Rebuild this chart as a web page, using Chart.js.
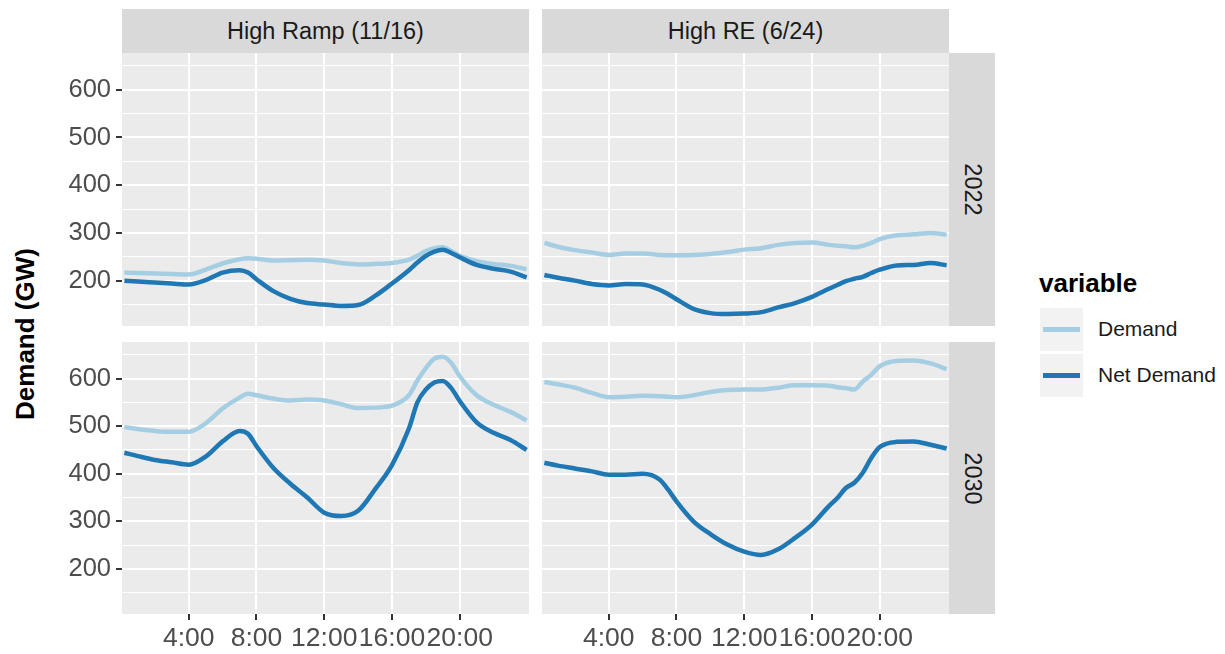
<!DOCTYPE html>
<html>
<head>
<meta charset="utf-8">
<script src="https://cdn.jsdelivr.net/npm/chart.js@4.4.0/dist/chart.umd.min.js"></script>
<style>
  body { margin: 0; background: #fff; font-family: "Liberation Sans", Arial, sans-serif; }
  #wrap { position: relative; width: 1225px; height: 654px; overflow: hidden; }
  .box { position: absolute; }
  .strip { position: absolute; background: #D9D9D9; color: #1A1A1A; font-size: 23.5px;
           display: flex; align-items: center; justify-content: center; }
  .vstrip span { transform: rotate(90deg); white-space: nowrap; }
  #ytitle { position: absolute; left: 25px; top: 334px; transform: translate(-50%, -50%) rotate(-90deg);
            font-size: 26px; font-weight: bold; color: #000; white-space: nowrap; }
  #legtitle { position: absolute; left: 1039px; top: 268px; font-size: 26px; font-weight: bold; color: #000; }
  .key { position: absolute; left: 1040px; width: 43px; height: 43px; background: #F2F2F2; }
  .key i { position: absolute; left: 3px; right: 3px; top: 19px; height: 5px; }
  .leglab { position: absolute; left: 1098px; font-size: 21px; color: #1A1A1A; }
</style>
</head>
<body>
<div id="wrap">
  <div class="strip" style="left:122px;top:9px;width:407px;height:44px;">High Ramp (11/16)</div>
  <div class="strip" style="left:542px;top:9px;width:407px;height:44px;">High RE (6/24)</div>
  <div class="strip vstrip" style="left:949px;top:53px;width:46px;height:273px;"><span>2022</span></div>
  <div class="strip vstrip" style="left:949px;top:342px;width:46px;height:272px;"><span>2030</span></div>

  <div class="box" style="left:60px;top:53px;width:469px;height:273px;"><canvas id="rampTop"></canvas></div>
  <div class="box" style="left:542px;top:53px;width:407px;height:273px;"><canvas id="reTop"></canvas></div>
  <div class="box" style="left:60px;top:342px;width:469px;height:312px;"><canvas id="rampBottom"></canvas></div>
  <div class="box" style="left:542px;top:342px;width:407px;height:312px;"><canvas id="reBottom"></canvas></div>

  <div id="ytitle">Demand (GW)</div>

  <div id="legtitle">variable</div>
  <div class="key" style="top:308px;"><i style="background:#A6CEE3"></i></div>
  <div class="key" style="top:354px;"><i style="background:#1F78B4"></i></div>
  <div class="leglab" style="top:317px;">Demand</div>
  <div class="leglab" style="top:363px;">Net Demand</div>
</div>

<script>
// hour of day
const hours = [0.2, 1, 2, 3, 4, 5, 6, 7, 7.5, 8, 9, 10, 11, 12, 13, 14, 15, 16, 17, 17.5, 18, 18.5, 19, 19.5, 20, 21, 22, 23, 23.95];

// High Ramp (11/16)
const rampDemand2022 = [217, 216, 215, 214, 213, 223, 236, 245, 247, 246, 242, 243, 244, 242, 237, 234, 235, 237, 244, 252, 262, 268, 270, 262, 252, 241, 235, 231, 224];
const rampNet2022    = [200, 198, 196, 194, 192, 201, 217, 222, 217, 203, 178, 162, 153, 150, 147, 149, 168, 194, 222, 238, 252, 261, 265, 258, 249, 233, 225, 219, 207];
const rampDemand2030 = [498, 494, 490, 488, 488, 506, 537, 560, 568, 565, 558, 554, 556, 554, 546, 538, 539, 543, 565, 596, 622, 642, 646, 633, 605, 565, 545, 530, 512];
const rampNet2030    = [444, 437, 429, 424, 419, 436, 468, 490, 484, 458, 412, 379, 350, 318, 311, 322, 367, 418, 495, 550, 577, 592, 595, 580, 553, 508, 486, 471, 450];

// High RE (6/24)
const reDemand2022 = [279, 271, 264, 259, 254, 257, 257, 254, 253, 253, 254, 256, 260, 265, 268, 275, 279, 280, 275, 273, 272, 270, 273, 279, 287, 295, 297, 300, 296];
const reNet2022    = [212, 206, 200, 193, 190, 193, 192, 181, 172, 161, 141, 132, 130, 131, 134, 144, 153, 166, 183, 191, 199, 204, 208, 216, 223, 232, 233, 237, 232];
const reDemand2030 = [593, 588, 581, 570, 561, 562, 564, 563, 562, 561, 565, 572, 576, 577, 577, 581, 586, 586, 585, 582, 580, 577, 594, 608, 626, 637, 638, 632, 620];
const reNet2030    = [423, 417, 411, 405, 398, 398, 400, 388, 367, 342, 300, 273, 251, 236, 229, 241, 265, 293, 332, 349, 370, 381, 402, 433, 456, 467, 468, 461, 453];

const xTicks = [4, 8, 12, 16, 20];
const yTicks = [150, 200, 250, 300, 350, 400, 450, 500, 550, 600, 650];

Chart.defaults.font.family = "'Liberation Sans', Arial, sans-serif";

const panelBg = {
    id: 'panelBg',
    beforeDraw(chart) {
        const a = chart.chartArea;
        const ctx = chart.ctx;
        ctx.save();
        ctx.fillStyle = '#EBEBEB';
        ctx.fillRect(a.left, a.top, a.right - a.left, a.bottom - a.top);
        ctx.restore();
    }
};

function toPoints(values) {
    return hours.map((h, i) => ({ x: h, y: values[i] }));
}

function makePanel(id, demand, net, showY, showX) {
    const ctx = document.getElementById(id).getContext('2d');
    return new Chart(ctx, {
        type: 'line',
        data: {
            datasets: [{
                label: 'Net Demand',
                data: toPoints(net),
                borderColor: '#1F78B4',
                borderWidth: 4.5,
                order: 0
            }, {
                label: 'Demand',
                data: toPoints(demand),
                borderColor: '#A6CEE3',
                borderWidth: 4.5,
                order: 1
            }]
        },
        options: {
            responsive: true,
            maintainAspectRatio: false,
            animation: false,
            layout: { padding: 0 },
            elements: {
                point: { radius: 0 },
                line: { cubicInterpolationMode: 'monotone', borderCapStyle: 'butt' }
            },
            plugins: { legend: { display: false }, tooltip: { enabled: false } },
            scales: {
                x: {
                    type: 'linear',
                    min: 0.06,
                    max: 24.09,
                    afterBuildTicks: s => { s.ticks = xTicks.map(v => ({ value: v })); },
                    afterFit: s => { s.height = showX ? 40 : 0; s.paddingLeft = 0; s.paddingRight = 0; },
                    border: { display: false },
                    grid: {
                        color: '#FFFFFF',
                        lineWidth: 2,
                        drawTicks: showX,
                        tickLength: 6,
                        tickWidth: 2,
                        tickColor: '#333333'
                    },
                    ticks: {
                        display: showX,
                        padding: 3,
                        color: '#4D4D4D',
                        font: { size: 26.5 },
                        maxRotation: 0,
                        autoSkip: false,
                        callback: v => v + ':00'
                    }
                },
                y: {
                    type: 'linear',
                    min: 105,
                    max: 677,
                    afterBuildTicks: s => { s.ticks = yTicks.map(v => ({ value: v })); },
                    afterFit: s => { s.width = showY ? 62 : 0; s.paddingTop = 0; s.paddingBottom = 0; },
                    border: { display: false },
                    grid: {
                        color: '#FFFFFF',
                        lineWidth: c => (c.tick && c.tick.value % 100 === 0) ? 2 : 1,
                        drawTicks: showY,
                        tickLength: 6,
                        tickWidth: 2,
                        tickColor: c => (c.tick && c.tick.value % 100 === 0) ? '#333333' : 'rgba(0,0,0,0)'
                    },
                    ticks: {
                        display: showY,
                        padding: 5,
                        color: '#4D4D4D',
                        font: { size: 25.5 },
                        autoSkip: false,
                        callback: v => (v % 100 === 0) ? String(v) : ''
                    }
                }
            }
        },
        plugins: [panelBg]
    });
}

makePanel('rampTop', rampDemand2022, rampNet2022, true, false);
makePanel('reTop', reDemand2022, reNet2022, false, false);
makePanel('rampBottom', rampDemand2030, rampNet2030, true, true);
makePanel('reBottom', reDemand2030, reNet2030, false, true);
</script>
</body>
</html>
